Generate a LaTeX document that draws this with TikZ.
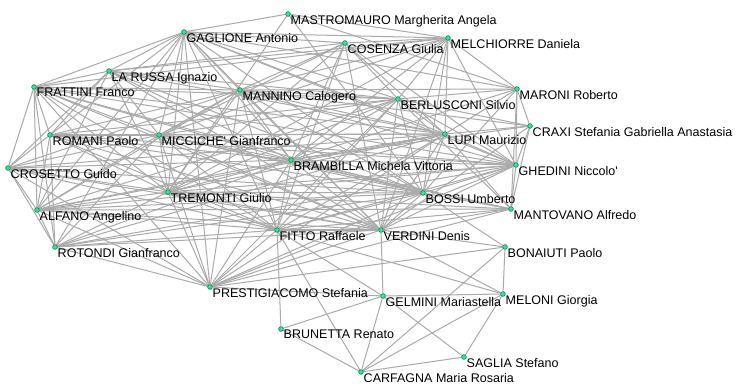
\documentclass[tikz,border=0pt]{standalone}
\usepackage{fontspec}
\newfontfamily\lblfont{Liberation Sans}
\usetikzlibrary{backgrounds}

\definecolor{dotgreen}{RGB}{40,235,150}
\definecolor{dotrim}{RGB}{20,110,75}
\definecolor{edgegray}{RGB}{170,170,170}

\begin{document}
\begin{tikzpicture}[x=0.025cm,y=-0.025cm,
  pol/.style={circle,fill=dotgreen,draw=dotrim,line width=0.4pt,
    minimum size=3.4pt,inner sep=0pt},
  lbl/.style={font=\lblfont\fontsize{8.9}{10}\selectfont,inner sep=0pt,
    xshift=0.4pt,yshift=0.8pt},
  link/.style={draw=edgegray,line width=0.72pt}]

  \useasboundingbox (0,0) rectangle (738,387);

  % politicians
  \node[pol,label={[lbl]below right:MASTROMAURO Margherita Angela}] (mas) at (288,14) {};
  \node[pol,label={[lbl]below right:GAGLIONE Antonio}] (gag) at (184,32) {};
  \node[pol,label={[lbl]below right:COSENZA Giulia}] (cos) at (345,43) {};
  \node[pol,label={[lbl]below right:MELCHIORRE Daniela}] (mel) at (448,38) {};
  \node[pol,label={[lbl]below right:LA RUSSA Ignazio}] (lar) at (109,71) {};
  \node[pol,label={[lbl]below right:FRATTINI Franco}] (fra) at (34,87) {};
  \node[pol,label={[lbl]below right:MANNINO Calogero}] (man) at (240,90) {};
  \node[pol,label={[lbl]below right:MARONI Roberto}] (mar) at (517,89) {};
  \node[pol,label={[lbl]below right:BERLUSCONI Silvio}] (ber) at (398,99) {};
  \node[pol,label={[lbl]below right:CRAXI Stefania Gabriella Anastasia}] (cra) at (530,126) {};
  \node[pol,label={[lbl]below right:ROMANI Paolo}] (rom) at (50,135) {};
  \node[pol,label={[lbl]below right:MICCICHE\textquotesingle{} Gianfranco}] (mic) at (159,135) {};
  \node[pol,label={[lbl]below right:LUPI Maurizio}] (lup) at (445,134) {};
  \node[pol,label={[lbl]below right:BRAMBILLA Michela Vittoria}] (bra) at (291,160) {};
  \node[pol,label={[lbl]below right:GHEDINI Niccolo\textquotesingle}] (ghe) at (516,165) {};
  \node[pol,label={[lbl]below right:CROSETTO Guido}] (cro) at (8,168) {};
  \node[pol,label={[lbl]below right:TREMONTI Giulio}] (tre) at (168,192) {};
  \node[pol,label={[lbl]below right:BOSSI Umberto}] (bos) at (423,193) {};
  \node[pol,label={[lbl]below right:MANTOVANO Alfredo}] (mnt) at (511,209) {};
  \node[pol,label={[lbl]below right:ALFANO Angelino}] (alf) at (37,210) {};
  \node[pol,label={[lbl]below right:FITTO Raffaele}] (fit) at (277,230) {};
  \node[pol,label={[lbl]below right:VERDINI Denis}] (ver) at (381,230) {};
  \node[pol,label={[lbl]below right:ROTONDI Gianfranco}] (rot) at (55,247) {};
  \node[pol,label={[lbl]below right:BONAIUTI Paolo}] (bon) at (505,247) {};
  \node[pol,label={[lbl]below right:PRESTIGIACOMO Stefania}] (pre) at (210,287) {};
  \node[pol,label={[lbl]below right:MELONI Giorgia}] (mlo) at (503,294) {};
  \node[pol,label={[lbl]below right:GELMINI Mariastella}] (gel) at (383,296) {};
  \node[pol,label={[lbl]below right:BRUNETTA Renato}] (bru) at (281,329) {};
  \node[pol,label={[lbl]below right:SAGLIA Stefano}] (sag) at (464,357) {};
  \node[pol,label={[lbl]below right:CARFAGNA Maria Rosaria}] (car) at (361,372) {};

  % links
  \begin{scope}[on background layer]
  \foreach \a/\b in {fra/lar,fra/gag,fra/rom,fra/cro,fra/alf,fra/rot,fra/mic,fra/tre,
      fra/man,fra/bra,fra/ber,fra/lup,fra/bos,fra/pre,fra/fit,fra/ghe,fra/ver,
      lar/gag,lar/rom,lar/mic,lar/man,lar/bra,lar/ber,lar/tre,lar/cro,lar/alf,lar/lup,lar/mel,lar/bos,lar/ver,
      gag/mas,gag/man,gag/mic,gag/bra,gag/ber,gag/lup,gag/mel,gag/cos,gag/tre,gag/ghe,
      gag/bos,gag/rom,gag/alf,gag/fit,gag/mar,gag/rot,gag/ver,gag/pre,
      mas/mel,mas/mar,mas/bos,mas/tre,
      cos/mel,cos/man,cos/ber,cos/bra,cos/lup,cos/tre,cos/fit,cos/mic,cos/ghe,cos/lar,cos/ver,
      mel/man,mel/ber,mel/lup,mel/bra,mel/mar,mel/ghe,mel/bos,mel/mic,mel/tre,mel/ver,mel/fra,
      man/ber,man/bra,man/mic,man/lup,man/tre,man/bos,man/ghe,man/mar,man/cra,man/ver,
      man/fit,man/rom,man/alf,man/cro,man/pre,
      ber/bra,ber/lup,ber/mar,ber/ghe,ber/cra,ber/bos,ber/mic,ber/tre,ber/ver,ber/fit,
      ber/mnt,ber/rom,ber/alf,ber/pre,
      mar/lup,mar/ghe,mar/cra,mar/mnt,mar/bra,mar/bos,
      cra/lup,cra/ghe,cra/mnt,cra/bra,cra/ver,
      lup/bra,lup/ghe,lup/bos,lup/mnt,lup/mic,lup/tre,lup/ver,lup/fit,lup/rom,lup/alf,lup/cro,lup/rot,lup/pre,
      bra/mic,bra/tre,bra/bos,bra/ghe,bra/ver,bra/fit,bra/mnt,bra/rom,bra/cro,bra/alf,bra/rot,bra/pre,
      ghe/bos,ghe/mnt,ghe/tre,ghe/mic,ghe/ver,ghe/fit,ghe/rom,ghe/alf,ghe/rot,ghe/pre,
      bos/ver,bos/mnt,bos/tre,bos/mic,bos/fit,bos/rom,bos/alf,bos/cro,bos/rot,bos/pre,bos/bon,
      mnt/ver,mnt/tre,mnt/fit,mnt/mic,mnt/alf,mnt/pre,
      rom/mic,rom/cro,rom/alf,rom/rot,rom/tre,rom/ver,rom/fit,
      mic/tre,mic/cro,mic/alf,mic/rot,mic/ver,mic/fit,mic/pre,
      cro/alf,cro/rot,cro/tre,cro/ver,cro/fit,cro/pre,
      tre/alf,tre/rot,tre/fit,tre/ver,tre/pre,
      alf/rot,alf/fit,alf/ver,alf/pre,
      rot/fit,rot/ver,rot/pre,
      fit/ver,fit/pre,fit/bru,fit/gel,fit/car,fit/mlo,
      ver/pre,ver/gel,ver/bon,ver/mlo,
      pre/gel,pre/bon,
      gel/mlo,gel/sag,gel/car,gel/bru,
      bon/mlo,bon/car,
      mlo/sag,mlo/car,
      sag/car,bru/car}
    \draw[link] (\a) -- (\b);
  \end{scope}
\end{tikzpicture}
\end{document}
